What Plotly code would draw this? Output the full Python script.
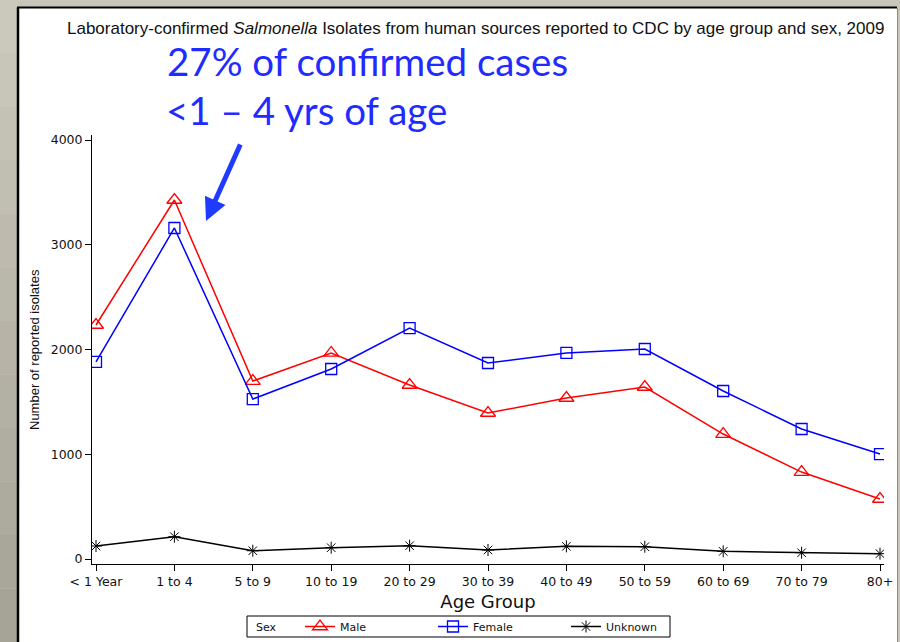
import plotly.graph_objects as go

age_groups = ["< 1 Year", "1 to 4", "5 to 9", "10 to 19", "20 to 29", "30 to 39",
              "40 to 49", "50 to 59", "60 to 69", "70 to 79", "80+"]
male = [2234, 3427, 1699, 1967, 1661, 1394, 1537, 1642, 1193, 830, 573]
female = [1881, 3160, 1527, 1814, 2205, 1871, 1967, 2005, 1604, 1241, 1002]
unknown = [124, 213, 79, 108, 127, 86, 121, 117, 73, 60, 51]
y_ticks = [0, 1000, 2000, 3000, 4000]

W, H = 900, 642
L, R, T, B = 92, 16, 135, 78
PW, PH = W - L - R, H - T - B


def px(x):
    return (x - L) / PW


def py(y):
    return (H - B - y) / PH


x_idx = list(range(len(age_groups)))

fig = go.Figure()
fig.add_trace(go.Scatter(x=x_idx, y=male, name="Male", mode="lines+markers",
                         line=dict(color="#ff0000", width=1.5),
                         marker=dict(symbol="triangle-up-open", size=13, color="#ff0000",
                                     line=dict(width=1.3, color="#ff0000"))))
fig.add_trace(go.Scatter(x=x_idx, y=female, name="Female", mode="lines+markers",
                         line=dict(color="#0000ff", width=1.5),
                         marker=dict(symbol="square-open", size=11, color="#0000ff",
                                     line=dict(width=1.3, color="#0000ff"))))
fig.add_trace(go.Scatter(x=x_idx, y=unknown, name="Unknown", mode="lines+markers",
                         line=dict(color="#000000", width=1.5),
                         marker=dict(symbol="asterisk-open", size=10, color="#000000",
                                     line=dict(width=1, color="#000000"))))

shapes = []
# left gray gradient strip
bands = 12
for i in range(bands):
    t = i / (bands - 1)
    c0 = (0xcb, 0xc8, 0xbc)
    c1 = (0xa6, 0xa4, 0x96)
    c = tuple(int(round(c0[k] + (c1[k] - c0[k]) * t)) for k in range(3))
    y0 = i * H / bands
    y1 = (i + 1) * H / bands
    shapes.append(dict(type="rect", xref="paper", yref="paper", layer="below",
                       x0=px(0), x1=px(18), y0=py(y1), y1=py(y0),
                       fillcolor="rgb(%d,%d,%d)" % c, line=dict(width=0)))
# white slide
shapes.append(dict(type="rect", xref="paper", yref="paper", layer="below",
                   x0=px(18), x1=px(897), y0=py(H + 2), y1=py(8),
                   fillcolor="white", line=dict(width=0)))
# black edges
shapes.append(dict(type="line", xref="paper", yref="paper",
                   x0=px(18), x1=px(18), y0=py(H + 2), y1=py(7.5),
                   line=dict(color="black", width=2.5)))
shapes.append(dict(type="line", xref="paper", yref="paper",
                   x0=px(17), x1=px(897), y0=py(7.5), y1=py(7.5),
                   line=dict(color="black", width=2)))
shapes.append(dict(type="line", xref="paper", yref="paper",
                   x0=px(897.5), x1=px(897.5), y0=py(H + 2), y1=py(8),
                   line=dict(color="#8a8a86", width=1)))
# legend box
shapes.append(dict(type="rect", xref="paper", yref="paper", layer="below",
                   x0=px(247), x1=px(670), y0=py(637), y1=py(616),
                   fillcolor="white", line=dict(color="black", width=1)))

annotations = [
    dict(text="Laboratory-confirmed <i>Salmonella</i> Isolates from human sources reported to CDC by age group and sex, 2009",
         xref="paper", yref="paper", x=px(475), y=py(29), showarrow=False,
         xanchor="center", yanchor="middle",
         font=dict(family="Liberation Sans", size=17, color="#111111")),
    dict(text="27% of confirmed cases", xref="paper", yref="paper",
         x=px(165), y=py(61), showarrow=False, xanchor="left", yanchor="middle",
         font=dict(family="Lato", size=38.5, color="#1f2bff")),
    dict(text="<1 \u2013 4 yrs of age", xref="paper", yref="paper",
         x=px(164), y=py(110), showarrow=False, xanchor="left", yanchor="middle",
         font=dict(family="Lato", size=38.5, color="#1f2bff")),
    dict(text="", xref="paper", yref="paper", x=px(206), y=py(221),
         ax=35, ay=-78, showarrow=True, arrowhead=2, arrowsize=0.9,
         arrowwidth=5, arrowcolor="#1f3bff"),
    dict(text="Number of reported isolates", xref="paper", yref="paper",
         x=px(34), y=py(350), showarrow=False, textangle=-90,
         xanchor="center", yanchor="middle",
         font=dict(family="Liberation Sans", size=13, color="#111111")),
    dict(text="Sex", xref="paper", yref="paper",
         x=px(254), y=py(627), showarrow=False, xanchor="left", yanchor="middle",
         font=dict(family="DejaVu Sans", size=11, color="#111111")),
]

fig.update_layout(
    width=W, height=H,
    margin=dict(l=L, r=R, t=T, b=B),
    paper_bgcolor="#c8c5b9",
    plot_bgcolor="rgba(0,0,0,0)",
    shapes=shapes,
    annotations=annotations,
    font=dict(family="DejaVu Sans", color="#111111"),
    xaxis=dict(
        range=[-(96 - 92) / 78.4, 10 + (884 - 880) / 78.4],
        tickmode="array", tickvals=x_idx, ticktext=age_groups,
        showgrid=False, zeroline=False,
        showline=True, linecolor="black", linewidth=1,
        ticks="outside", ticklen=6, tickcolor="black",
        tickfont=dict(family="DejaVu Sans", size=12.5, color="#111111"),
        title=dict(text="Age Group", standoff=7,
                   font=dict(family="DejaVu Sans", size=18, color="#111111")),
        automargin=False,
    ),
    yaxis=dict(
        range=[-(564 - 559) / 0.10475, (559 - 135) / 0.10475],
        tickmode="array", tickvals=y_ticks, ticktext=[str(v) for v in y_ticks],
        showgrid=False, zeroline=False,
        showline=True, linecolor="black", linewidth=1,
        ticks="outside", ticklen=6, tickcolor="black",
        tickfont=dict(family="DejaVu Sans", size=12.5, color="#111111"),
        automargin=False,
    ),
    showlegend=True,
    legend=dict(
        orientation="h",
        xref="container", yref="container",
        x=(300) / W, y=(H - 626.5) / H, xanchor="left", yanchor="middle",
        bgcolor="rgba(0,0,0,0)", borderwidth=0,
        font=dict(family="DejaVu Sans", size=11, color="#111111"),
        entrywidth=88, entrywidthmode="pixels",
    ),
)

fig.write_html("out.html",
               config={"displayModeBar": False},
               post_script="document.body.style.margin='0';document.body.style.overflow='hidden';")
